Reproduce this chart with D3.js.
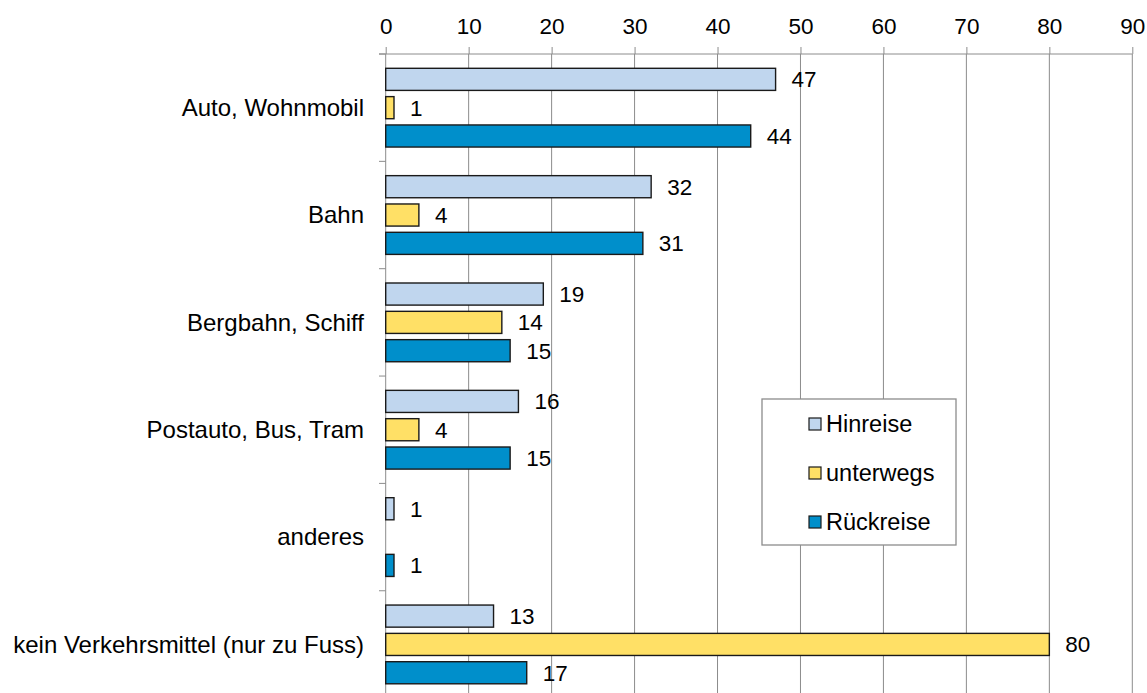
<!DOCTYPE html>
<html>
<head>
<meta charset="utf-8">
<script src="https://cdn.jsdelivr.net/npm/d3@7"></script>
<style>
  body { margin: 0; background: #fff; }
  text { font-family: "Liberation Sans", Arial, sans-serif; fill: #000; }
</style>
</head>
<body>
<svg id="chart" width="1147" height="693"></svg>
<script>
// Data
const categories = ["Auto, Wohnmobil", "Bahn", "Bergbahn, Schiff", "Postauto, Bus, Tram", "anderes", "kein Verkehrsmittel (nur zu Fuss)"];
const seriesNames = ["Hinreise", "unterwegs", "Rückreise"];
const hinreise = [47, 32, 19, 16, 1, 13];
const unterwegs = [1, 4, 14, 4, 0, 80];
const rueckreise = [44, 31, 15, 15, 1, 17];
const xTicks = [0, 10, 20, 30, 40, 50, 60, 70, 80, 90];

const colors = { "Hinreise": "#c0d6ee", "unterwegs": "#ffe066", "Rückreise": "#008fcb" };
const catFont = 24;
const numFont = 22.5;
const legendFont = 23.5;

const seriesValues = { "Hinreise": hinreise, "unterwegs": unterwegs, "Rückreise": rueckreise };
const rows = categories.map((c, i) => ({
  cat: c,
  vals: seriesNames.map(s => ({ series: s, value: seriesValues[s][i] }))
}));

const svg = d3.select("#chart");

const x = d3.scaleLinear().domain([0, 90]).range([385.7, 1132.3]);
const y = d3.scaleBand().domain(categories).range([54, 54 + 6 * 107.35]).padding(0);
const inner = d3.scaleBand().domain(seriesNames)
  .range([14.3, y.bandwidth() - 14.3])
  .paddingInner(0.22).paddingOuter(0);

// vertical gridlines
svg.append("g")
  .selectAll("line")
  .data(xTicks.slice(1))
  .join("line")
  .attr("x1", d => x(d)).attr("x2", d => x(d))
  .attr("y1", 54).attr("y2", 693)
  .attr("stroke", "#8c8c8c")
  .attr("stroke-width", 1);

// top axis
const xAxis = svg.append("g")
  .attr("transform", "translate(0,54)")
  .call(d3.axisTop(x).tickValues(xTicks).tickSizeInner(7).tickSizeOuter(0).tickPadding(13));
xAxis.select(".domain").remove();
xAxis.selectAll(".tick line").attr("stroke", "#8c8c8c");
xAxis.selectAll(".tick text")
  .style("font-size", numFont + "px")
  .style("font-family", "'Liberation Sans', Arial, sans-serif")
  .attr("fill", "#000");

// axis lines
svg.append("line")
  .attr("x1", 379).attr("x2", x(90))
  .attr("y1", 54).attr("y2", 54)
  .attr("stroke", "#8c8c8c");
svg.append("line")
  .attr("x1", x(0)).attr("x2", x(0))
  .attr("y1", 54).attr("y2", 693)
  .attr("stroke", "#8c8c8c");

// category boundary ticks on the left axis
const bounds = categories.map(c => y(c)).concat([y.range()[1]]);
svg.append("g")
  .selectAll("line")
  .data(bounds)
  .join("line")
  .attr("x1", 379).attr("x2", x(0))
  .attr("y1", d => d).attr("y2", d => d)
  .attr("stroke", "#8c8c8c");

// category labels
svg.append("g")
  .selectAll("text")
  .data(categories)
  .join("text")
  .attr("x", 364)
  .attr("y", d => y(d) + y.bandwidth() / 2)
  .attr("dy", "0.35em")
  .attr("text-anchor", "end")
  .style("font-size", catFont + "px")
  .text(d => d);

// bars
const groups = svg.append("g")
  .selectAll("g")
  .data(rows)
  .join("g")
  .attr("transform", d => `translate(0,${y(d.cat)})`);

groups.selectAll("rect")
  .data(d => d.vals.filter(v => v.value > 0))
  .join("rect")
  .attr("x", x(0))
  .attr("y", d => inner(d.series))
  .attr("width", d => x(d.value) - x(0))
  .attr("height", inner.bandwidth())
  .attr("fill", d => colors[d.series])
  .attr("stroke", "#1a1a1a")
  .attr("stroke-width", 1.4);

groups.selectAll("text")
  .data(d => d.vals.filter(v => v.value > 0))
  .join("text")
  .attr("x", d => x(d.value) + 16)
  .attr("y", d => inner(d.series) + inner.bandwidth() / 2)
  .attr("dy", "0.35em")
  .style("font-size", numFont + "px")
  .text(d => d.value);

// legend
const legend = svg.append("g").attr("transform", "translate(762,399)");
legend.append("rect")
  .attr("width", 194).attr("height", 146)
  .attr("fill", "#fff")
  .attr("stroke", "#8c8c8c")
  .attr("stroke-width", 1.3);
const items = legend.selectAll("g.item")
  .data(seriesNames)
  .join("g")
  .attr("class", "item")
  .attr("transform", (d, i) => `translate(47,${24.5 + i * 49})`);
items.append("rect")
  .attr("x", 0).attr("y", -5.5)
  .attr("width", 12).attr("height", 12)
  .attr("fill", d => colors[d])
  .attr("stroke", "#1a1a1a")
  .attr("stroke-width", 1.2);
items.append("text")
  .attr("x", 17)
  .attr("y", 0)
  .attr("dy", "0.35em")
  .style("font-size", legendFont + "px")
  .text(d => d);
</script>
</body>
</html>
